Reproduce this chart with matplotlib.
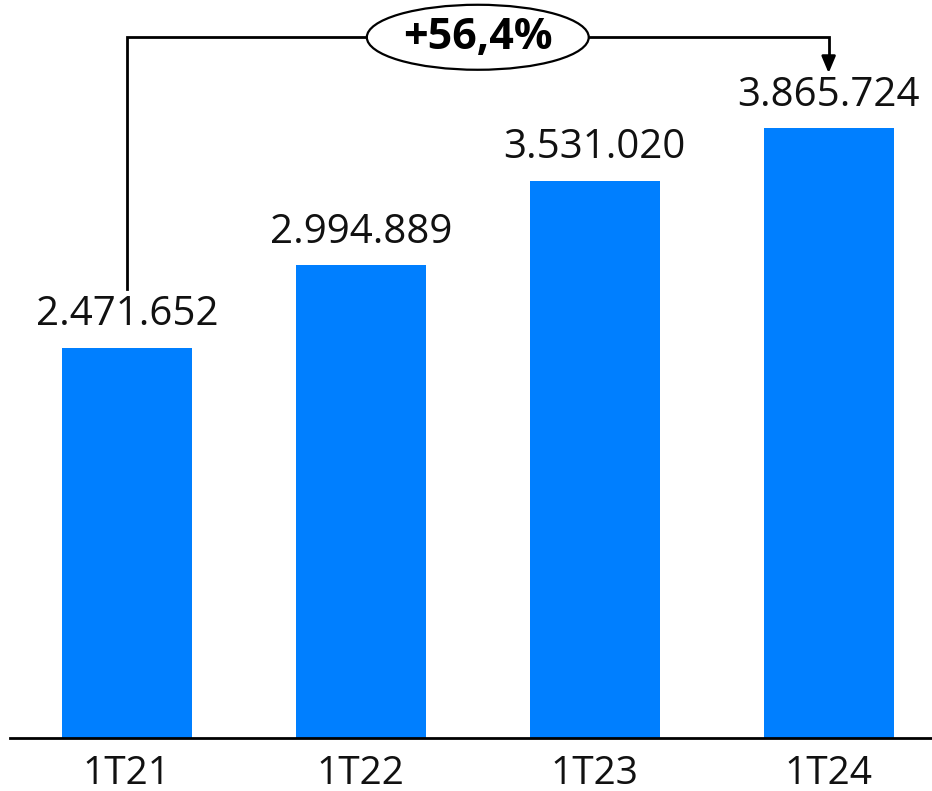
import matplotlib
matplotlib.use("Agg")
import matplotlib.pyplot as plt
from matplotlib.patches import Ellipse

# quarterly totals
quarters = ["1T21", "1T22", "1T23", "1T24"]
totals = [2471652, 2994889, 3531020, 3865724]

BLUE = "#007FFF"


def fmt_pt(v):
    # thousands separated with dots
    return f"{v:,}".replace(",", ".")


fig = plt.figure(figsize=(9.32, 7.91), dpi=100)
ax = fig.add_axes([10 / 932, 53 / 791, 922 / 932, 738 / 791])

x = list(range(len(quarters)))
ax.bar(x, totals, width=0.556, color=BLUE, zorder=2)

ymax = 4677000
ax.set_ylim(0, ymax)
ax.set_xlim(-0.5, 3.442)

for xi, v in zip(x, totals):
    ax.annotate(fmt_pt(v), (xi, v), xytext=(0, 9), textcoords="offset points",
                ha="center", va="bottom", fontsize=29, family="Open Sans",
                color="#111111")

ax.set_xticks(x)
ax.set_xticklabels(quarters, fontsize=28, family="Open Sans", color="#111111")
ax.tick_params(axis="x", length=0, pad=12)
ax.set_yticks([])
for s in ["top", "right", "left"]:
    ax.spines[s].set_visible(False)
ax.spines["bottom"].set_linewidth(2)
ax.spines["bottom"].set_color("black")

# growth bracket from first to last quarter
growth = (totals[-1] / totals[0] - 1) * 100
y_bracket = ymax * 0.9495
y_start = totals[0] * 1.152
y_end = totals[-1] * 1.09
ax.plot([x[0], x[0], x[-1], x[-1]], [y_start, y_bracket, y_bracket, y_end + 90000],
        color="black", lw=2, solid_joinstyle="miter", clip_on=False, zorder=3)
ax.annotate("", xy=(x[-1], y_end), xytext=(x[-1], y_end + 100000),
            arrowprops=dict(arrowstyle="-|>,head_length=1.0,head_width=0.42",
                            color="black", lw=2, shrinkA=0, shrinkB=0),
            annotation_clip=False)

x_mid = (367 + 589) / 2
xm = (x_mid - 10) / 234 - 0.5
ell = Ellipse((xm, y_bracket), width=222 / 234, height=65 * ymax / 738,
              facecolor="white", edgecolor="black", lw=1.6, zorder=4, clip_on=False)
ax.add_patch(ell)
ax.text(xm, y_bracket, f"+{growth:.1f}%".replace(".", ","), ha="center", va="center",
        fontsize=31, fontweight="bold", family="Open Sans", zorder=5)

fig.savefig("out.png", dpi=100)
